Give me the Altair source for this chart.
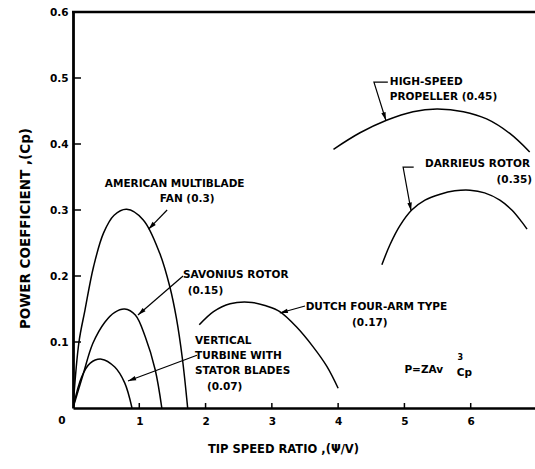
import altair as alt
import pandas as pd
import numpy as np

# ---- curve data ----
fan_x = [0.0, 0.09, 0.18, 0.31, 0.46, 0.62, 0.81, 1.06, 1.31, 1.46, 1.56, 1.65, 1.73]
fan_y = [0.0, 0.100, 0.148, 0.214, 0.265, 0.292, 0.301, 0.285, 0.234, 0.184, 0.136, 0.075, 0.0]

sav_x = [0.0, 0.15, 0.30, 0.48, 0.63, 0.78, 0.94, 1.09, 1.24, 1.34]
sav_y = [0.0, 0.050, 0.098, 0.130, 0.145, 0.150, 0.141, 0.108, 0.058, 0.0]

vert_x = [0.0, 0.13, 0.26, 0.43, 0.63, 0.78, 0.89]
vert_y = [0.0, 0.047, 0.068, 0.074, 0.062, 0.038, 0.0]

dutch_x = [1.905, 2.12, 2.37, 2.70, 2.92, 3.12, 3.37, 3.62, 3.83, 4.00]
dutch_y = [0.126, 0.146, 0.158, 0.160, 0.1545, 0.146, 0.123, 0.093, 0.063, 0.030]

prop_x = [3.93, 4.33, 4.73, 5.13, 5.49, 5.89, 6.24, 6.59, 6.89]
prop_y = [0.392, 0.417, 0.436, 0.449, 0.453, 0.449, 0.438, 0.416, 0.388]

darr_x = [4.66, 4.78, 4.93, 5.11, 5.31, 5.54, 5.76, 5.99, 6.21, 6.44, 6.62, 6.77, 6.85]
darr_y = [0.217, 0.247, 0.276, 0.300, 0.315, 0.324, 0.329, 0.330, 0.326, 0.315, 0.300, 0.282, 0.271]

x_ticks = [1, 2, 3, 4, 5, 6]
y_ticks = [0.1, 0.2, 0.3, 0.4, 0.5, 0.6]

# annotation labels and their anchor points (data units)
ann_text = ["AMERICAN MULTIBLADE", "FAN (0.3)", "SAVONIUS ROTOR", "(0.15)",
            "VERTICAL", "TURBINE WITH", "STATOR BLADES", "(0.07)",
            "DUTCH FOUR-ARM TYPE", "(0.17)", "HIGH-SPEED", "PROPELLER (0.45)",
            "DARRIEUS ROTOR", "(0.35)", "P=ZAv", "Cp"]
ann_x = [0.48, 1.31, 1.66, 1.73, 1.84, 1.84, 1.84, 2.02, 3.51, 4.21, 4.78, 4.78, 5.31, 6.39, 5.0, 5.79]
ann_y = [0.339, 0.317, 0.2015, 0.177, 0.1015, 0.079, 0.056, 0.032, 0.153, 0.129, 0.494, 0.471,
         0.370, 0.345, 0.058, 0.053]

# leader lines (data units), last point is the arrow tip
arrows = {
    "fan": ([1.42, 1.14], [0.300, 0.271]),
    "sav": ([1.66, 0.98], [0.200, 0.141]),
    "vert": ([1.87, 0.83], [0.080, 0.041]),
    "dutch": ([3.50, 3.12], [0.1545, 0.144]),
    "prop": ([4.75, 4.54, 4.72], [0.4936, 0.4936, 0.436]),
    "darr": ([5.14, 4.98, 5.10], [0.365, 0.365, 0.299]),
}

# ---- layout ----
W, H = 462, 396
XMAX, YMAX = 6.97, 0.6
XPX, YPX = W / XMAX, H / YMAX
FONT = "DejaVu Sans"

rows = []
for name, xs_, ys_ in [("fan", fan_x, fan_y), ("sav", sav_x, sav_y), ("vert", vert_x, vert_y),
                       ("dutch", dutch_x, dutch_y), ("prop", prop_x, prop_y), ("darr", darr_x, darr_y)]:
    for i, (xv, yv) in enumerate(zip(xs_, ys_)):
        rows.append({"curve": name, "i": i, "x": xv, "y": yv})
curves = pd.DataFrame(rows)

arow, heads = [], []
for name, (ax, ay) in arrows.items():
    for i, (xv, yv) in enumerate(zip(ax, ay)):
        arow.append({"arrow": name, "i": i, "x": xv, "y": yv})
    dx = (ax[-1] - ax[-2]) * XPX
    dy = (ay[-1] - ay[-2]) * YPX
    ang = np.degrees(np.arctan2(dx, dy)) % 360
    heads.append({"x": ax[-1], "y": ay[-1], "rot": float(ang)})
arrow_df = pd.DataFrame(arow)
head_df = pd.DataFrame(heads)

ann = pd.DataFrame({"label": ann_text, "x": ann_x, "y": ann_y})
sup = pd.DataFrame({"label": ["3"], "x": [5.80], "y": [0.076]})
corner = pd.DataFrame({"label": ["0"], "x": [0.0], "y": [0.0]})

xs = alt.Scale(domain=[0, XMAX], nice=False, zero=False)
ys = alt.Scale(domain=[0, YMAX], nice=False)

xaxis = alt.Axis(values=x_ticks, format="d", title="TIP SPEED RATIO ,(Ψ/V)",
                 grid=False, ticks=False, tickSize=0, domainColor="black", domainWidth=2.5,
                 labelPadding=8, labelFontSize=10.5, labelFontWeight="bold", labelFont=FONT,
                 labelColor="black", titleFont=FONT, titleFontSize=11.5, titleFontWeight="bold",
                 titleColor="black", titleX=210, titleY=41, titleBaseline="middle",
                 titleAlign="center")
yaxis = alt.Axis(values=y_ticks, format=".1f", title="POWER COEFFICIENT ,(Cp)",
                 grid=False, ticks=False, tickSize=0, domainColor="black", domainWidth=2.8,
                 labelPadding=5, labelFontSize=10.5, labelFontWeight="bold", labelFont=FONT,
                 labelColor="black", titleFont=FONT, titleFontSize=13.5, titleFontWeight="bold",
                 titleColor="black", titleX=-48, titleY=216, titleBaseline="middle",
                 titleAlign="center", titleAngle=270)

lines = alt.Chart(curves).mark_line(color="black", strokeWidth=1.5, interpolate="catmull-rom",
                                    clip=True).encode(
    x=alt.X("x:Q", scale=xs, axis=xaxis),
    y=alt.Y("y:Q", scale=ys, axis=yaxis),
    detail="curve:N",
    order="i:Q",
)

top = alt.Chart(pd.DataFrame({"y": [0.6]})).mark_rule(color="black", strokeWidth=2.5).encode(
    y=alt.Y("y:Q", scale=ys), x=alt.value(-1), x2=alt.value(W))

ytk = alt.Chart(pd.DataFrame({"y": y_ticks[:-1]})).mark_rule(color="black", strokeWidth=1.5).encode(
    y=alt.Y("y:Q", scale=ys), x=alt.value(0), x2=alt.value(8))

xtk = alt.Chart(pd.DataFrame({"x": x_ticks})).mark_rule(color="black", strokeWidth=1.5).encode(
    x=alt.X("x:Q", scale=xs), y=alt.value(H - 5), y2=alt.value(H))

leaders = alt.Chart(arrow_df).mark_line(color="black", strokeWidth=1.2).encode(
    x=alt.X("x:Q", scale=xs), y=alt.Y("y:Q", scale=ys), detail="arrow:N", order="i:Q")

tips = alt.Chart(head_df).mark_point(shape="M0,0L0.5,1.8L-0.5,1.8Z", filled=True,
                                     color="black", fill="black", size=80, opacity=1,
                                     strokeWidth=0.5).encode(
    x=alt.X("x:Q", scale=xs), y=alt.Y("y:Q", scale=ys), angle=alt.Angle("rot:Q", scale=None))

labels = alt.Chart(ann).mark_text(align="left", baseline="middle", font=FONT, fontSize=10.5,
                                  fontWeight="bold", color="black").encode(
    x=alt.X("x:Q", scale=xs), y=alt.Y("y:Q", scale=ys), text="label:N")

suptext = alt.Chart(sup).mark_text(align="left", baseline="middle", font=FONT, fontSize=8,
                                   fontWeight="bold", color="black").encode(
    x=alt.X("x:Q", scale=xs), y=alt.Y("y:Q", scale=ys), text="label:N")

zero = alt.Chart(corner).mark_text(align="center", baseline="middle", font=FONT, fontSize=10.5,
                                   fontWeight="bold", color="black", dx=-11, dy=13).encode(
    x=alt.X("x:Q", scale=xs), y=alt.Y("y:Q", scale=ys), text="label:N")

chart = alt.layer(lines, top, ytk, xtk, leaders, tips, labels, suptext, zero).properties(
    width=W, height=H,
    autosize=alt.AutoSizeParams(type="none"),
    padding={"left": 73, "top": 12, "right": 0, "bottom": 61},
    background="white",
).configure_view(stroke=None)

chart.save("out.html", embed_options={"renderer": "svg", "actions": False})
